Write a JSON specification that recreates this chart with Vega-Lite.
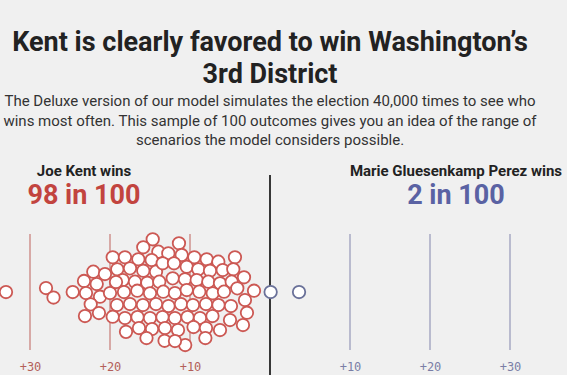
{
  "$schema": "https://vega.github.io/schema/vega-lite/v6.json",
  "width": 567,
  "height": 177,
  "autosize": {"type": "none"},
  "padding": {"top": 175, "left": 0, "right": 0, "bottom": 23},
  "background": "#f0f0f0",
  "config": {"view": {"stroke": null}},
  "title": {
    "text": ["Kent is clearly favored to win Washington’s", "3rd District"],
    "subtitle": [
      "The Deluxe version of our model simulates the election 40,000 times to see who",
      "wins most often. This sample of 100 outcomes gives you an idea of the range of",
      "scenarios the model considers possible."
    ],
    "anchor": "middle",
    "frame": "group",
    "dx": -13.5,
    "font": "Roboto",
    "fontSize": 27,
    "fontWeight": "bold",
    "color": "#222222",
    "lineHeight": 32,
    "subtitleFont": "Roboto",
    "subtitleFontSize": 15,
    "subtitleColor": "#333333",
    "subtitleLineHeight": 19.5,
    "subtitlePadding": 5,
    "offset": 15
  },
  "datasets": {
    "outcomes": [
      {"margin": -33.0, "offset": 0, "winner": "Kent"},
      {"margin": -28.0, "offset": 0.5, "winner": "Kent"},
      {"margin": -27.06, "offset": -0.69, "winner": "Kent"},
      {"margin": -24.66, "offset": 0, "winner": "Kent"},
      {"margin": -22.09, "offset": 2.54, "winner": "Kent"},
      {"margin": -23.25, "offset": 1.38, "winner": "Kent"},
      {"margin": -21.66, "offset": 1.0, "winner": "Kent"},
      {"margin": -23.0, "offset": -0.13, "winner": "Kent"},
      {"margin": -21.25, "offset": -0.59, "winner": "Kent"},
      {"margin": -22.41, "offset": -1.54, "winner": "Kent"},
      {"margin": -23.13, "offset": -3.0, "winner": "Kent"},
      {"margin": -14.66, "offset": 6.59, "winner": "Kent"},
      {"margin": -11.38, "offset": 6.09, "winner": "Kent"},
      {"margin": -15.84, "offset": 5.59, "winner": "Kent"},
      {"margin": -13.96, "offset": 5.04, "winner": "Kent"},
      {"margin": -19.66, "offset": 4.34, "winner": "Kent"},
      {"margin": -18.13, "offset": 4.34, "winner": "Kent"},
      {"margin": -16.46, "offset": 4.09, "winner": "Kent"},
      {"margin": -14.79, "offset": 4.0, "winner": "Kent"},
      {"margin": -12.71, "offset": 4.84, "winner": "Kent"},
      {"margin": -11.04, "offset": 4.63, "winner": "Kent"},
      {"margin": -9.46, "offset": 4.34, "winner": "Kent"},
      {"margin": -7.91, "offset": 4.09, "winner": "Kent"},
      {"margin": -6.46, "offset": 3.79, "winner": "Kent"},
      {"margin": -4.38, "offset": 4.34, "winner": "Kent"},
      {"margin": -19.09, "offset": 2.84, "winner": "Kent"},
      {"margin": -17.5, "offset": 2.96, "winner": "Kent"},
      {"margin": -15.84, "offset": 2.66, "winner": "Kent"},
      {"margin": -14.25, "offset": 2.54, "winner": "Kent"},
      {"margin": -13.41, "offset": 3.59, "winner": "Kent"},
      {"margin": -12.0, "offset": 3.59, "winner": "Kent"},
      {"margin": -10.41, "offset": 3.16, "winner": "Kent"},
      {"margin": -8.96, "offset": 2.84, "winner": "Kent"},
      {"margin": -7.5, "offset": 2.66, "winner": "Kent"},
      {"margin": -5.91, "offset": 2.75, "winner": "Kent"},
      {"margin": -4.59, "offset": 2.84, "winner": "Kent"},
      {"margin": -18.41, "offset": 1.5, "winner": "Kent"},
      {"margin": -16.88, "offset": 1.29, "winner": "Kent"},
      {"margin": -15.34, "offset": 1.16, "winner": "Kent"},
      {"margin": -13.84, "offset": 1.29, "winner": "Kent"},
      {"margin": -12.16, "offset": 1.71, "winner": "Kent"},
      {"margin": -10.63, "offset": 1.59, "winner": "Kent"},
      {"margin": -9.16, "offset": 1.5, "winner": "Kent"},
      {"margin": -7.71, "offset": 1.29, "winner": "Kent"},
      {"margin": -6.25, "offset": 1.09, "winner": "Kent"},
      {"margin": -4.79, "offset": 1.29, "winner": "Kent"},
      {"margin": -3.25, "offset": 1.84, "winner": "Kent"},
      {"margin": -20.0, "offset": -0.13, "winner": "Kent"},
      {"margin": -18.25, "offset": 0, "winner": "Kent"},
      {"margin": -16.59, "offset": 0.16, "winner": "Kent"},
      {"margin": -15.0, "offset": -0.16, "winner": "Kent"},
      {"margin": -13.34, "offset": 0.04, "winner": "Kent"},
      {"margin": -11.88, "offset": -0.13, "winner": "Kent"},
      {"margin": -10.41, "offset": 0.25, "winner": "Kent"},
      {"margin": -8.84, "offset": 0.04, "winner": "Kent"},
      {"margin": -7.16, "offset": -0.16, "winner": "Kent"},
      {"margin": -5.75, "offset": 0.04, "winner": "Kent"},
      {"margin": -4.09, "offset": 0.46, "winner": "Kent"},
      {"margin": -2.0, "offset": 0.16, "winner": "Kent"},
      {"margin": -3.13, "offset": -1.0, "winner": "Kent"},
      {"margin": -19.13, "offset": -1.63, "winner": "Kent"},
      {"margin": -17.5, "offset": -1.5, "winner": "Kent"},
      {"margin": -15.88, "offset": -1.63, "winner": "Kent"},
      {"margin": -14.25, "offset": -1.5, "winner": "Kent"},
      {"margin": -12.69, "offset": -1.75, "winner": "Kent"},
      {"margin": -11.13, "offset": -1.5, "winner": "Kent"},
      {"margin": -9.63, "offset": -1.63, "winner": "Kent"},
      {"margin": -8.0, "offset": -1.5, "winner": "Kent"},
      {"margin": -6.44, "offset": -1.63, "winner": "Kent"},
      {"margin": -4.88, "offset": -1.75, "winner": "Kent"},
      {"margin": -2.88, "offset": -2.59, "winner": "Kent"},
      {"margin": -19.66, "offset": -3.09, "winner": "Kent"},
      {"margin": -18.13, "offset": -3.25, "winner": "Kent"},
      {"margin": -16.56, "offset": -3.13, "winner": "Kent"},
      {"margin": -15.0, "offset": -3.25, "winner": "Kent"},
      {"margin": -13.44, "offset": -3.13, "winner": "Kent"},
      {"margin": -11.88, "offset": -3.25, "winner": "Kent"},
      {"margin": -10.31, "offset": -3.13, "winner": "Kent"},
      {"margin": -8.75, "offset": -3.25, "winner": "Kent"},
      {"margin": -7.19, "offset": -3.0, "winner": "Kent"},
      {"margin": -5.0, "offset": -3.5, "winner": "Kent"},
      {"margin": -3.38, "offset": -4.13, "winner": "Kent"},
      {"margin": -18.0, "offset": -4.98, "winner": "Kent"},
      {"margin": -16.38, "offset": -4.5, "winner": "Kent"},
      {"margin": -14.75, "offset": -4.63, "winner": "Kent"},
      {"margin": -13.13, "offset": -4.5, "winner": "Kent"},
      {"margin": -11.5, "offset": -4.75, "winner": "Kent"},
      {"margin": -9.56, "offset": -4.38, "winner": "Kent"},
      {"margin": -8.0, "offset": -4.5, "winner": "Kent"},
      {"margin": -15.44, "offset": -5.75, "winner": "Kent"},
      {"margin": -13.18, "offset": -6.1, "winner": "Kent"},
      {"margin": -10.6, "offset": -6.63, "winner": "Kent"},
      {"margin": -8.08, "offset": -5.75, "winner": "Kent"},
      {"margin": -20.63, "offset": 2.25, "winner": "Kent"},
      {"margin": -21.38, "offset": -2.63, "winner": "Kent"},
      {"margin": -6.25, "offset": -4.75, "winner": "Kent"},
      {"margin": -11.88, "offset": -6.13, "winner": "Kent"},
      {"margin": -19.25, "offset": 1.25, "winner": "Kent"},
      {"margin": 0.08, "offset": 0, "winner": "Perez"},
      {"margin": 3.63, "offset": 0, "winner": "Perez"}
    ],
    "grid": [
      {"margin": -30, "side": "Kent"},
      {"margin": -20, "side": "Kent"},
      {"margin": -10, "side": "Kent"},
      {"margin": 10, "side": "Perez"},
      {"margin": 20, "side": "Perez"},
      {"margin": 30, "side": "Perez"}
    ],
    "divider": [
      {"margin": 0}
    ],
    "headers": [
      {"margin": -23.25, "who": "Joe Kent wins", "odds": "98 in 100", "side": "Kent"},
      {"margin": 23.25, "who": "Marie Gluesenkamp Perez wins", "odds": "2 in 100", "side": "Perez"}
    ]
  },
  "encoding": {
    "x": {
      "field": "margin",
      "type": "quantitative",
      "scale": {"domain": [-33.75, 37.125], "nice": false, "zero": false},
      "axis": {
        "values": [-30, -20, -10, 10, 20, 30],
        "labelExpr": "datum.value == -30 ? ['+30', 'POPULAR'] : '+' + abs(datum.value)",
        "domain": false,
        "ticks": false,
        "grid": false,
        "title": null,
        "labelFont": "DejaVu Sans Mono",
        "labelFontSize": 12,
        "labelColor": {"condition": {"test": "datum.value < 0", "value": "#b35f5a"}, "value": "#7a7ea6"},
        "labelPadding": 9,
        "labelOverlap": false,
        "labelFlush": false,
        "labelBound": false,
        "labelLineHeight": 13.5
      }
    }
  },
  "layer": [
    {
      "data": {"name": "grid"},
      "mark": {"type": "rule", "strokeWidth": 1.2},
      "encoding": {
        "y": {"datum": 7.25, "type": "quantitative", "scale": {"domain": [-7.5, 14.625], "nice": false, "zero": false}, "axis": null},
        "y2": {"datum": -7.25},
        "color": {"condition": {"test": "datum.side == 'Kent'", "value": "#c77a75"}, "value": "#9497b8"}
      }
    },
    {
      "data": {"name": "divider"},
      "mark": {"type": "rule", "strokeWidth": 1.8, "color": "#222222"},
      "encoding": {
        "y": {"datum": 14.625, "type": "quantitative", "axis": null},
        "y2": {"datum": -10.375}
      }
    },
    {
      "data": {"name": "outcomes"},
      "mark": {"type": "point", "shape": "circle", "size": 155, "fill": "#ffffff", "fillOpacity": 1, "strokeWidth": 1.8, "opacity": 1},
      "encoding": {
        "y": {"field": "offset", "type": "quantitative", "axis": null},
        "stroke": {"condition": {"test": "datum.winner == 'Kent'", "value": "#cc5954"}, "value": "#6a7199"}
      }
    },
    {
      "data": {"name": "headers"},
      "mark": {"type": "text", "font": "Roboto", "fontSize": 15, "fontWeight": "bold", "color": "#222222", "baseline": "alphabetic", "align": "center"},
      "encoding": {
        "y": {"datum": 14.5, "type": "quantitative", "axis": null},
        "text": {"field": "who"}
      }
    },
    {
      "data": {"name": "headers"},
      "mark": {"type": "text", "font": "Roboto", "fontSize": 27, "fontWeight": "bold", "baseline": "alphabetic", "align": "center"},
      "encoding": {
        "y": {"datum": 11.0, "type": "quantitative", "axis": null},
        "text": {"field": "odds"},
        "color": {"condition": {"test": "datum.side == 'Kent'", "value": "#c2443f"}, "value": "#5a62a3"}
      }
    }
  ]
}
